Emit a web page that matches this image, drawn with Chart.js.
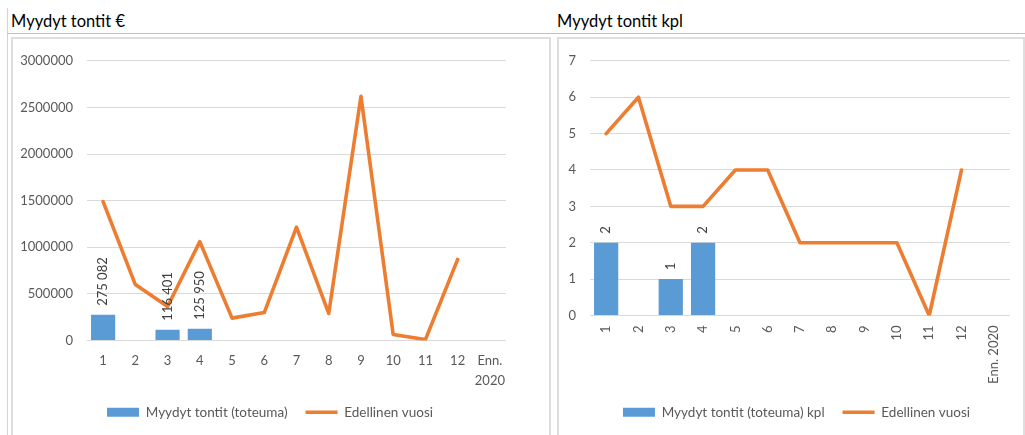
<!DOCTYPE html>
<html>
<head>
<meta charset="utf-8">
<script src="https://cdn.jsdelivr.net/npm/chart.js@4.4.1/dist/chart.umd.min.js"></script>
<style>
  html, body { margin: 0; padding: 0; background: #fff; }
  body { width: 1025px; height: 435px; position: relative; overflow: hidden; font-family: Lato, 'Open Sans', sans-serif; }
  .vline { position: absolute; left: 7px; top: 8px; width: 1px; height: 427px; background: #d4d4d4; }
  .hline { position: absolute; left: 7px; top: 33px; width: 1018px; height: 1px; background: #c0c0c0; }
  .title { position: absolute; top: 11px; font-size: 16.5px; color: #000; }
  .box { position: absolute; top: 37px; height: 410px; border: 2px solid #dedede; box-sizing: border-box; }
  canvas { position: absolute; }
</style>
</head>
<body>
<div class="vline"></div>
<div class="hline"></div>
<div class="title" style="left:11px">Myydyt tontit €</div>
<div class="title" style="left:557px">Myydyt tontit kpl</div>
<div class="box" style="left:11px; width:540px"></div>
<div class="box" style="left:557px; width:468px"></div>
<canvas id="chartEur" style="left:13px; top:39px" width="536" height="396"></canvas>
<canvas id="chartKpl" style="left:568px; top:39px" width="457" height="396"></canvas>
<script>
// ── Data ────────────────────────────────────────────────────────────────
const MONTHS = ['1', '2', '3', '4', '5', '6', '7', '8', '9', '10', '11', '12', 'Enn. 2020'];

// Myydyt tontit €
const EUR_ACTUAL = [275082, null, 116401, 125950, null, null, null, null, null, null, null, null, null];
const EUR_PREV   = [1490000, 600000, 365000, 1060000, 240000, 300000, 1215000, 290000, 2620000, 65000, 10000, 870000, null];
const EUR_TICKS  = [0, 3000000, 500000]; // min, max, step

// Myydyt tontit kpl
const KPL_ACTUAL = [2, null, 1, 2, null, null, null, null, null, null, null, null, null];
const KPL_PREV   = [5, 6, 3, 3, 4, 4, 2, 2, 2, 2, 0, 4, null];
const KPL_TICKS  = [0, 7, 1];

const BLUE = '#5B9BD5';
const ORANGE = '#ED7D31';
const TEXT = '#595959';
const GRID = '#D9D9D9';
const FONT = 'Lato';

// 275082 -> "275 082"
const spaced = v => String(v).replace(/\B(?=(\d{3})+(?!\d))/g, ' ');

// Pystysuorat arvot pylväiden päälle
const barLabels = {
    id: 'barLabels',
    afterDatasetsDraw(chart) {
        const ctx = chart.ctx;
        const meta = chart.getDatasetMeta(0);
        const data = chart.data.datasets[0].data;
        ctx.save();
        ctx.font = '13px ' + FONT;
        ctx.fillStyle = '#404040';
        ctx.textAlign = 'left';
        ctx.textBaseline = 'middle';
        meta.data.forEach((bar, i) => {
            if (data[i] == null) return;
            ctx.save();
            ctx.translate(bar.x, bar.y - 9);
            ctx.rotate(-Math.PI / 2);
            ctx.fillText(spaced(data[i]), 0, 0);
            ctx.restore();
        });
        ctx.restore();
    }
};

function makeChart(id, cfg) {
    return new Chart(document.getElementById(id), {
        type: 'bar',
        data: {
            labels: cfg.labels,
            datasets: [
                {
                    label: cfg.barLabel,
                    data: cfg.actual,
                    backgroundColor: BLUE,
                    borderWidth: 0,
                    categoryPercentage: 1,
                    barPercentage: 0.75,
                    pointStyle: 'rect',
                },
                {
                    label: 'Edellinen vuosi',
                    type: 'line',
                    data: cfg.prev,
                    borderColor: ORANGE,
                    backgroundColor: ORANGE,
                    borderWidth: 3.6,
                    borderJoinStyle: 'round',
                    borderCapStyle: 'round',
                    pointRadius: 0,
                    pointStyle: 'line',
                    tension: 0,
                },
            ],
        },
        options: {
            responsive: false,
            animation: false,
            events: [],
            layout: { padding: cfg.padding },
            plugins: {
                tooltip: { enabled: false },
                legend: {
                    position: 'bottom',
                    labels: {
                        usePointStyle: true,
                        pointStyleWidth: 32,
                        boxHeight: 9,
                        padding: 18,
                        color: TEXT,
                        font: { family: FONT, size: 13.5 },
                    },
                },
            },
            scales: {
                x: {
                    grid: { display: false, drawTicks: false },
                    border: { display: false },
                    ticks: {
                        color: TEXT,
                        font: { family: FONT, size: 13, lineHeight: 1.55 },
                        padding: cfg.xPad,
                        autoSkip: false,
                        minRotation: cfg.rotation,
                        maxRotation: cfg.rotation,
                    },
                    afterFit: s => { s.height = cfg.xHeight; },
                },
                y: {
                    min: cfg.ticks[0],
                    max: cfg.ticks[1],
                    grid: { color: GRID, drawTicks: false, lineWidth: 1 },
                    border: { display: false },
                    ticks: {
                        stepSize: cfg.ticks[2],
                        color: TEXT,
                        font: { family: FONT, size: 13 },
                        padding: 14,
                        callback: v => String(v),
                    },
                    afterFit: s => { s.width = cfg.yWidth; },
                },
                // tyhjä akseli oikealla, jotta selite keskittyy kuten alkuperäisessä
                gap: {
                    type: 'linear',
                    position: 'right',
                    grid: { display: false, drawTicks: false },
                    border: { display: false },
                    ticks: { display: false },
                    afterFit: s => { s.width = cfg.gapWidth; },
                },
            },
        },
        plugins: [barLabels],
    });
}

makeChart('chartEur', {
    labels: MONTHS.map(m => m.includes(' ') ? m.split(' ') : m),
    barLabel: 'Myydyt tontit (toteuma)',
    actual: EUR_ACTUAL,
    prev: EUR_PREV,
    ticks: EUR_TICKS,
    padding: { left: 0, right: 22, top: 17, bottom: 6 },
    yWidth: 74,
    gapWidth: 21,
    xHeight: 47,
    xPad: 10,
    rotation: 0,
});

makeChart('chartKpl', {
    labels: MONTHS,
    barLabel: 'Myydyt tontit (toteuma) kpl',
    actual: KPL_ACTUAL,
    prev: KPL_PREV,
    ticks: KPL_TICKS,
    padding: { left: 0, right: 0, top: 17, bottom: 6 },
    yWidth: 22,
    gapWidth: 15,
    xHeight: 72,
    xPad: 10,
    rotation: 90,
});
</script>
</body>
</html>
